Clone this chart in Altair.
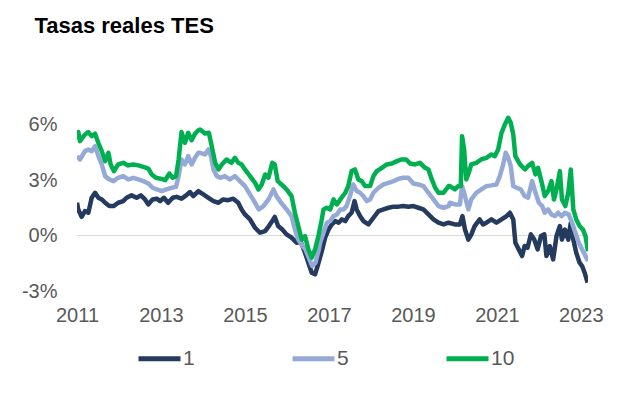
import altair as alt
import pandas as pd

# Serie "1"
years_1 = [2011.00, 2011.03, 2011.11, 2011.19, 2011.27, 2011.35, 2011.43, 2011.51, 2011.59, 2011.67,
           2011.77, 2011.87, 2011.98, 2012.10, 2012.18, 2012.30, 2012.42, 2012.52, 2012.62, 2012.70,
           2012.80, 2012.90, 2012.98, 2013.07, 2013.17, 2013.28, 2013.37, 2013.49, 2013.60, 2013.69,
           2013.77, 2013.89, 2014.01, 2014.13, 2014.25, 2014.37, 2014.48, 2014.60, 2014.72, 2014.84,
           2014.92, 2015.00, 2015.12, 2015.24, 2015.36, 2015.48, 2015.57, 2015.65, 2015.71, 2015.79,
           2015.89, 2015.99, 2016.11, 2016.23, 2016.33, 2016.43, 2016.51, 2016.59, 2016.67, 2016.73,
           2016.83, 2016.91, 2016.99, 2017.07, 2017.15, 2017.23, 2017.31, 2017.39, 2017.46, 2017.54,
           2017.61, 2017.66, 2017.74, 2017.82, 2017.94, 2018.06, 2018.18, 2018.30, 2018.42, 2018.54,
           2018.66, 2018.77, 2018.89, 2019.01, 2019.13, 2019.25, 2019.37, 2019.49, 2019.61, 2019.73,
           2019.85, 2020.00, 2020.12, 2020.18, 2020.24, 2020.32, 2020.39, 2020.47, 2020.59, 2020.67,
           2020.75, 2020.87, 2020.99, 2021.11, 2021.23, 2021.31, 2021.39, 2021.44, 2021.52, 2021.60,
           2021.66, 2021.73, 2021.81, 2021.89, 2021.97, 2022.05, 2022.13, 2022.18, 2022.26, 2022.34,
           2022.42, 2022.50, 2022.55, 2022.62, 2022.70, 2022.76, 2022.82, 2022.89, 2022.97, 2023.03,
           2023.09, 2023.16]
values_1 = [1.77, 1.41, 1.01, 1.32, 1.23, 2.04, 2.31, 2.04, 1.95, 1.77,
            1.59, 1.59, 1.77, 1.86, 2.04, 2.17, 2.04, 2.17, 1.95, 1.68,
            1.95, 1.99, 1.86, 2.04, 1.77, 2.04, 2.09, 1.99, 2.17, 2.35,
            2.13, 2.40, 2.22, 2.04, 1.86, 1.77, 1.95, 1.91, 1.99, 1.77,
            1.41, 1.14, 0.87, 0.42, 0.15, 0.24, 0.51, 0.78, 1.01, 0.51,
            0.32, 0.06, -0.12, -0.39, -0.35, -0.93, -1.47, -2.01, -2.10, -1.65,
            -0.85, -0.12, 0.32, 0.60, 0.78, 0.69, 0.87, 0.78, 1.05, 1.23,
            1.86, 1.41, 1.05, 0.78, 0.60, 0.96, 1.32, 1.41, 1.50, 1.56,
            1.56, 1.59, 1.56, 1.59, 1.50, 1.41, 1.14, 0.87, 0.69, 0.60,
            0.69, 0.60, 0.60, 1.05, 0.32, -0.22, 0.05, 0.51, 0.87, 0.60,
            0.69, 0.87, 0.69, 0.87, 1.05, 1.23, 0.87, -0.39, -0.75, -1.11,
            -0.57, -0.66, 0.06, -0.22, -0.75, -0.03, 0.06, -1.11, -0.57, -1.29,
            -0.03, 0.51, -0.22, 0.32, -0.22, 0.69, -0.22, -0.93, -1.47, -1.65,
            -2.01, -2.55]

# Serie "5"
years_5 = [2011.00, 2011.07, 2011.19, 2011.27, 2011.35, 2011.43, 2011.51, 2011.59, 2011.67, 2011.77,
           2011.87, 2011.98, 2012.10, 2012.22, 2012.34, 2012.46, 2012.58, 2012.70, 2012.80, 2012.90,
           2013.02, 2013.13, 2013.25, 2013.36, 2013.42, 2013.49, 2013.57, 2013.65, 2013.73, 2013.81,
           2013.89, 2013.93, 2014.05, 2014.13, 2014.19, 2014.25, 2014.33, 2014.41, 2014.52, 2014.64,
           2014.76, 2014.88, 2015.00, 2015.12, 2015.24, 2015.33, 2015.44, 2015.56, 2015.68, 2015.75,
           2015.86, 2015.99, 2016.11, 2016.19, 2016.27, 2016.37, 2016.44, 2016.52, 2016.60, 2016.68,
           2016.76, 2016.79, 2016.87, 2016.95, 2017.03, 2017.11, 2017.19, 2017.27, 2017.35, 2017.42,
           2017.50, 2017.58, 2017.66, 2017.74, 2017.82, 2017.90, 2017.98, 2018.06, 2018.18, 2018.30,
           2018.42, 2018.54, 2018.66, 2018.77, 2018.89, 2019.01, 2019.13, 2019.25, 2019.37, 2019.49,
           2019.61, 2019.73, 2019.85, 2019.88, 2020.00, 2020.12, 2020.17, 2020.22, 2020.32, 2020.39,
           2020.51, 2020.63, 2020.75, 2020.87, 2020.99, 2021.07, 2021.15, 2021.21, 2021.27, 2021.33,
           2021.39, 2021.47, 2021.57, 2021.66, 2021.74, 2021.84, 2021.92, 2022.00, 2022.08, 2022.14,
           2022.22, 2022.30, 2022.38, 2022.46, 2022.54, 2022.62, 2022.71, 2022.79, 2022.87, 2022.95,
           2023.03, 2023.11, 2023.17]
values_5 = [4.29, 4.11, 4.56, 4.65, 4.56, 4.83, 4.29, 3.84, 3.21, 3.03,
            2.94, 3.12, 3.21, 3.03, 3.12, 3.03, 2.94, 2.81, 2.58, 2.49,
            2.40, 2.49, 2.58, 2.63, 3.21, 4.11, 3.84, 4.29, 3.84, 4.20,
            4.47, 4.47, 4.38, 4.65, 4.29, 3.57, 3.21, 3.12, 3.21, 3.03,
            3.21, 2.94, 2.67, 2.22, 1.77, 1.41, 1.59, 1.95, 2.49, 2.13,
            1.77, 1.41, 1.05, 0.32, -0.22, -0.57, -0.75, -1.20, -1.65, -1.47,
            -0.75, -0.39, 0.15, 0.69, 0.78, 1.05, 1.14, 1.41, 1.41, 1.59,
            2.13, 2.76, 2.40, 2.31, 2.13, 1.86, 1.95, 2.31, 2.58, 2.76,
            2.85, 2.94, 3.07, 3.12, 3.12, 2.81, 2.76, 2.67, 2.31, 1.95,
            1.59, 1.50, 1.59, 1.77, 1.68, 1.68, 2.67, 2.31, 1.41, 1.95,
            2.31, 2.49, 2.67, 2.71, 2.76, 3.21, 3.84, 4.47, 4.20, 3.75,
            2.67, 2.58, 2.49, 2.13, 2.04, 2.94, 2.31, 1.77, 1.59, 1.23,
            1.41, 1.14, 1.05, 1.23, 1.05, 1.23, 1.14, 0.69, 0.15, -0.39,
            -0.75, -1.11, -1.38]

# Serie "10"
years_10 = [2011.00, 2011.03, 2011.07, 2011.19, 2011.27, 2011.35, 2011.43, 2011.51, 2011.59, 2011.67,
            2011.75, 2011.80, 2011.88, 2011.98, 2012.10, 2012.22, 2012.34, 2012.46, 2012.58, 2012.70,
            2012.78, 2012.88, 2012.99, 2013.10, 2013.20, 2013.28, 2013.36, 2013.42, 2013.49, 2013.57,
            2013.65, 2013.73, 2013.81, 2013.89, 2013.93, 2014.05, 2014.14, 2014.21, 2014.29, 2014.37,
            2014.45, 2014.56, 2014.68, 2014.76, 2014.84, 2014.92, 2015.00, 2015.12, 2015.24, 2015.32,
            2015.40, 2015.48, 2015.56, 2015.65, 2015.71, 2015.78, 2015.87, 2015.99, 2016.11, 2016.19,
            2016.27, 2016.35, 2016.43, 2016.51, 2016.59, 2016.67, 2016.75, 2016.83, 2016.87, 2016.95,
            2017.03, 2017.11, 2017.19, 2017.27, 2017.39, 2017.46, 2017.54, 2017.62, 2017.70, 2017.78,
            2017.86, 2017.98, 2018.06, 2018.14, 2018.26, 2018.38, 2018.50, 2018.62, 2018.73, 2018.84,
            2018.93, 2019.05, 2019.17, 2019.29, 2019.37, 2019.45, 2019.53, 2019.61, 2019.73, 2019.85,
            2019.88, 2020.00, 2020.08, 2020.14, 2020.17, 2020.22, 2020.27, 2020.33, 2020.39, 2020.51,
            2020.63, 2020.75, 2020.87, 2020.95, 2021.03, 2021.11, 2021.19, 2021.27, 2021.33, 2021.39,
            2021.44, 2021.55, 2021.67, 2021.74, 2021.84, 2021.92, 2021.98, 2022.06, 2022.14, 2022.22,
            2022.30, 2022.36, 2022.42, 2022.50, 2022.55, 2022.63, 2022.70, 2022.76, 2022.82, 2022.89,
            2022.97, 2023.05, 2023.11, 2023.17]
values_10 = [5.20, 5.60, 5.10, 5.46, 5.59, 5.37, 5.50, 5.00, 4.56, 4.02,
             4.47, 3.84, 3.48, 3.84, 3.93, 3.79, 3.84, 3.79, 3.71, 3.61,
             3.30, 3.12, 3.07, 2.99, 3.35, 3.12, 3.21, 4.11, 5.59, 5.01,
             5.55, 5.15, 5.50, 5.69, 5.73, 5.51, 5.55, 4.83, 3.93, 3.57,
             3.84, 4.11, 3.93, 4.20, 3.93, 3.84, 3.57, 3.21, 2.85, 2.49,
             2.76, 3.30, 3.12, 3.93, 3.84, 2.94, 2.76, 2.49, 2.13, 1.23,
             0.51, -0.21, -0.03, -0.75, -1.20, -0.75, -0.03, 0.87, 1.41, 1.50,
             1.41, 1.95, 1.68, 1.95, 2.31, 2.67, 3.48, 3.57, 3.03, 2.94,
             2.67, 2.67, 3.21, 3.48, 3.66, 3.84, 3.89, 4.02, 4.11, 4.11,
             3.89, 3.84, 3.93, 3.66, 3.57, 3.03, 2.58, 2.31, 2.31, 2.67,
             2.67, 2.49, 2.67, 2.67, 5.37, 4.65, 3.03, 3.39, 3.84, 3.93,
             4.11, 4.20, 4.38, 4.29, 4.65, 5.55, 6.00, 6.36, 6.09, 5.46,
             4.29, 3.84, 3.57, 3.75, 3.93, 3.30, 3.66, 2.94, 2.13, 2.40,
             2.94, 1.95, 2.49, 3.48, 1.95, 1.59, 2.31, 3.57, 1.41, 0.87,
             0.51, 0.32, -0.03, -0.85]

series_names = ["1", "5", "10"]
series_colors = ["#243a5e", "#95a9d7", "#00b050"]
x_ticks = [2011, 2013, 2015, 2017, 2019, 2021, 2023]
y_ticks = [-3, 0, 3, 6]

frames = []
for name, yrs, vals in [("1", years_1, values_1), ("5", years_5, values_5), ("10", years_10, values_10)]:
    frames.append(pd.DataFrame({"year": yrs, "value": vals, "serie": name}))
df = pd.concat(frames, ignore_index=True)

FONT = "Liberation Sans"

x_enc = alt.X("year:Q",
              scale=alt.Scale(domain=[2011, 2023.17], nice=False, zero=False),
              axis=alt.Axis(values=x_ticks, format="d", title=None, grid=False, domain=False,
                            ticks=False, tickSize=0, labelPadding=14, labelFontSize=20,
                            labelFont=FONT, labelColor="#595959", labelFlush=False))
y_enc = alt.Y("value:Q",
              scale=alt.Scale(domain=[-3, 7], nice=False, zero=False),
              axis=alt.Axis(values=y_ticks, labelExpr="datum.value + '%'", title=None, grid=False,
                            domain=False, ticks=False, tickSize=0, labelPadding=20, labelFontSize=20,
                            labelFont=FONT, labelColor="#595959"))

zero_rule = alt.Chart(pd.DataFrame({"value": [0]})).mark_rule(
    color="#d9d9d9", strokeWidth=1
).encode(y=alt.Y("value:Q"))

lines = alt.Chart(df).mark_line(strokeWidth=4.5, clip=True, strokeJoin="round").encode(
    x=x_enc,
    y=y_enc,
    color=alt.Color("serie:N",
                    sort=series_names,
                    scale=alt.Scale(domain=series_names, range=series_colors),
                    legend=alt.Legend(orient="none", legendX=59, legendY=229, direction="horizontal",
                                      title=None, symbolType="stroke", symbolStrokeWidth=5,
                                      symbolSize=1764, labelFontSize=21, labelFont=FONT,
                                      labelColor="#595959", labelOffset=0, columnPadding=87,
                                      padding=0)),
    detail="serie:N",
)

chart = alt.layer(zero_rule, lines).properties(
    width=511,
    height=185,
    padding={"left": 69, "top": 98, "right": 30, "bottom": 90},
    autosize=alt.AutoSizeParams(type="none"),
    title=alt.TitleParams("Tasas reales TES", anchor="start", fontSize=22, font=FONT,
                          fontWeight="bold", color="#000000", dx=13, offset=68),
).configure_view(stroke=None)

chart.save("out.html", embed_options={"renderer": "svg", "actions": False})
